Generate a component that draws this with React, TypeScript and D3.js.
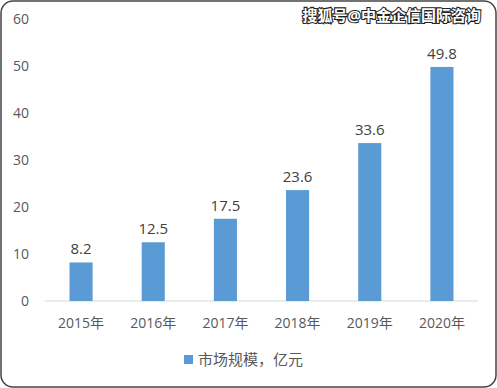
import React from 'react';
import * as d3 from 'd3';

const years = ['2015年', '2016年', '2017年', '2018年', '2019年', '2020年'];
const marketSize = [8.2, 12.5, 17.5, 23.6, 33.6, 49.8];
const yTicks = [0, 10, 20, 30, 40, 50, 60];
const seriesName = '市场规模，亿元';
const watermark = '搜狐号@中金企信国际咨询';

const W = 497, H = 388;
const font = '"Open Sans", "Noto Sans CJK SC", sans-serif';

export default function App() {
  const x = d3.scaleBand().domain(years).range([45, 478]).paddingInner(0.68).paddingOuter(0.34);
  const y = d3.scaleLinear().domain([0, 60]).range([301, 19]);

  return (
    <svg width={W} height={H} style={{ position: 'absolute', left: 0, top: 0 }}>
      <rect x={1} y={1} width={W - 2} height={H - 2} rx={12} fill="#fff" stroke="#444" strokeWidth={1.5} />
      <text x={481} y={21} textAnchor="end" fontFamily={font} fontSize={15} fontWeight="bold"
        fill="#fff" stroke="#222" strokeWidth={2.2} paintOrder="stroke">{watermark}</text>
      {yTicks.map(t => (
        <text key={t} x={29} y={y(t)} dy="0.35em" textAnchor="end" fontFamily={font} fontSize={14} fill="#595959">{t}</text>
      ))}
      <line x1={45} x2={478} y1={y(0)} y2={y(0)} stroke="#d9d9d9" strokeWidth={1} />
      {years.map((c, i) => (
        <g key={c}>
          <rect x={x(c)} y={y(marketSize[i])} width={x.bandwidth()} height={y(0) - y(marketSize[i])} fill="#5b9bd5" />
          <text x={(x(c) as number) + x.bandwidth() / 2} y={y(marketSize[i]) - 8} textAnchor="middle"
            fontFamily={font} fontSize={15} fill="#404040">{marketSize[i]}</text>
          <text x={(x(c) as number) + x.bandwidth() / 2} y={323} dy="0.35em" textAnchor="middle"
            fontFamily={font} fontSize={14} fill="#595959">{c}</text>
        </g>
      ))}
      <rect x={184} y={355} width={9} height={9} fill="#5b9bd5" />
      <text x={198} y={360} dy="0.35em" fontFamily={font} fontSize={15} fill="#595959">{seriesName}</text>
    </svg>
  );
}
